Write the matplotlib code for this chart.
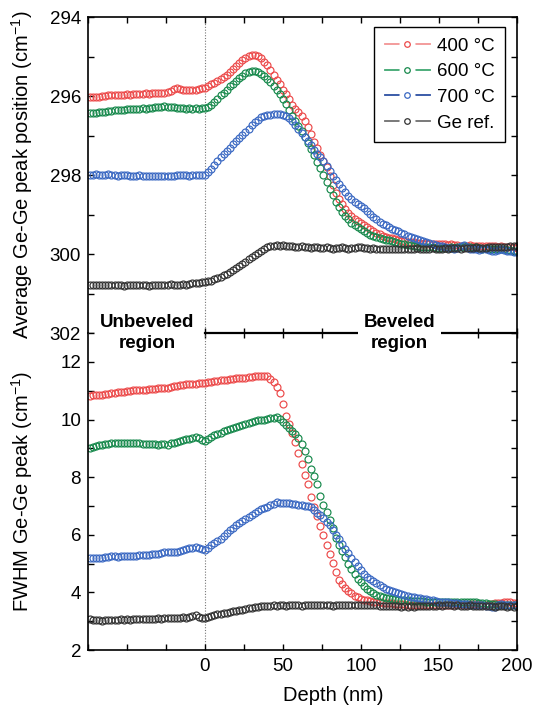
import numpy as np
import matplotlib
matplotlib.use("Agg")
import matplotlib.pyplot as plt
from matplotlib.lines import Line2D
from matplotlib.legend_handler import HandlerTuple
from matplotlib.ticker import MultipleLocator, FuncFormatter

plt.rcParams['font.family'] = ['Liberation Sans', 'DejaVu Sans']
plt.rcParams['mathtext.fontset'] = 'custom'
plt.rcParams['mathtext.rm'] = 'Liberation Sans'
plt.rcParams['mathtext.default'] = 'regular'

# depth grid (nm), one profile point every 2 nm
depth = np.arange(-74, 201, 2)

# average Ge-Ge peak position (cm^-1)
pos_400 = [
    296.03, 296.02, 296.03, 296.01, 296.00, 296.00, 295.98, 295.97, 295.98, 295.97,
    295.96, 295.96, 295.95, 295.96, 295.95, 295.94, 295.95, 295.94, 295.93, 295.94,
    295.93, 295.92, 295.93, 295.92, 295.92, 295.90, 295.86, 295.82, 295.80, 295.82,
    295.84, 295.85, 295.84, 295.83, 295.84, 295.82, 295.80,
    295.78, 295.74, 295.70, 295.66, 295.62, 295.57, 295.51, 295.45, 295.38, 295.31,
    295.24, 295.16, 295.09, 295.03, 294.99, 294.96, 294.96, 294.99, 295.04, 295.12,
    295.22, 295.33, 295.45, 295.58, 295.70, 295.83, 295.95, 296.08, 296.22, 296.33,
    296.41, 296.50, 296.63, 296.78, 296.96, 297.16, 297.32, 297.48, 297.63, 297.80,
    298.02, 298.26, 298.44, 298.60, 298.74, 298.85, 298.95, 299.03, 299.10, 299.15,
    299.20, 299.26, 299.32, 299.37, 299.42, 299.47, 299.50, 299.53, 299.56, 299.58,
    299.60, 299.62, 299.64, 299.66, 299.67, 299.68, 299.69, 299.70, 299.71, 299.72,
    299.73, 299.72, 299.73, 299.74, 299.73, 299.73, 299.74, 299.75, 299.76, 299.75,
    299.77, 299.76, 299.78, 299.79, 299.78, 299.77, 299.78, 299.80, 299.79, 299.78,
    299.79, 299.80, 299.79, 299.80, 299.81, 299.80, 299.82, 299.81, 299.83, 299.82,
    299.84,
]
pos_600 = [
    296.43, 296.42, 296.43, 296.41, 296.40, 296.39, 296.38, 296.37, 296.36, 296.36,
    296.34, 296.35, 296.33, 296.32, 296.33, 296.31, 296.32, 296.30, 296.31, 296.29,
    296.30, 296.28, 296.27, 296.26, 296.25, 296.26, 296.27, 296.28, 296.29, 296.30,
    296.30, 296.31, 296.30, 296.31, 296.30, 296.31, 296.30,
    296.29, 296.26, 296.21, 296.14, 296.06, 295.98, 295.91, 295.83, 295.75, 295.68,
    295.61, 295.54, 295.48, 295.42, 295.38, 295.36, 295.36, 295.39, 295.43, 295.49,
    295.57, 295.65, 295.74, 295.84, 295.95, 296.06, 296.19, 296.34, 296.50, 296.63,
    296.76, 296.88, 297.02, 297.18, 297.34, 297.50, 297.66, 297.82, 297.99, 298.17,
    298.34, 298.51, 298.67, 298.81, 298.93, 299.03, 299.12, 299.20, 299.27, 299.32,
    299.37, 299.42, 299.47, 299.51, 299.54, 299.57, 299.59, 299.61, 299.63, 299.65,
    299.67, 299.69, 299.71, 299.73, 299.74, 299.76, 299.77, 299.79, 299.80, 299.81,
    299.82, 299.83, 299.82, 299.83, 299.84, 299.85, 299.84, 299.85, 299.84, 299.83,
    299.84, 299.83, 299.81, 299.80, 299.82, 299.83, 299.84, 299.83, 299.85, 299.86,
    299.85, 299.86, 299.87, 299.86, 299.87, 299.88, 299.87, 299.89, 299.90, 299.91,
    299.92,
]
pos_700 = [
    297.99, 298.00, 297.98, 297.99, 298.00, 297.99, 297.98, 297.99, 298.00, 298.01,
    298.00, 297.99, 298.00, 298.01, 298.02, 298.01, 298.00, 298.01, 298.02, 298.03,
    298.02, 298.01, 298.02, 298.03, 298.02, 298.01, 298.02, 298.01, 298.00, 298.00,
    297.99, 298.00, 298.01, 298.00, 297.99, 298.00, 298.00,
    297.99, 297.93, 297.83, 297.73, 297.63, 297.54, 297.46, 297.38, 297.30, 297.22,
    297.14, 297.06, 296.98, 296.90, 296.82, 296.74, 296.66, 296.59, 296.53, 296.50,
    296.48, 296.47, 296.45, 296.44, 296.45, 296.47, 296.50, 296.55, 296.62, 296.72,
    296.83, 296.93, 297.03, 297.14, 297.24, 297.35, 297.45, 297.55, 297.65, 297.77,
    297.89, 298.01, 298.12, 298.23, 298.33, 298.43, 298.52, 298.60, 298.67, 298.74,
    298.79, 298.84, 298.91, 298.98, 299.05, 299.12, 299.18, 299.23, 299.27, 299.31,
    299.35, 299.38, 299.42, 299.46, 299.50, 299.53, 299.56, 299.59, 299.62, 299.65,
    299.67, 299.70, 299.72, 299.74, 299.76, 299.78, 299.80, 299.82, 299.84, 299.85,
    299.87, 299.84, 299.80, 299.76, 299.82, 299.86, 299.88, 299.86, 299.90, 299.88,
    299.87, 299.89, 299.91, 299.92, 299.90, 299.88, 299.90, 299.92, 299.93, 299.94,
    299.95,
]
pos_ref = [
    300.78, 300.77, 300.79, 300.78, 300.77, 300.78, 300.79, 300.78, 300.77, 300.78,
    300.79, 300.80, 300.78, 300.77, 300.78, 300.79, 300.78, 300.77, 300.78, 300.80,
    300.79, 300.78, 300.77, 300.78, 300.79, 300.78, 300.76, 300.77, 300.78, 300.77,
    300.76, 300.77, 300.75, 300.73, 300.74, 300.72, 300.71,
    300.70, 300.69, 300.67, 300.64, 300.61, 300.57, 300.53, 300.49, 300.45, 300.41,
    300.36, 300.31, 300.25, 300.19, 300.13, 300.08, 300.02, 299.96, 299.91, 299.87,
    299.83, 299.80, 299.78, 299.77, 299.78, 299.77, 299.79, 299.80, 299.79, 299.81,
    299.82, 299.80, 299.81, 299.83, 299.84, 299.82, 299.83, 299.85, 299.84, 299.83,
    299.85, 299.86, 299.85, 299.84, 299.83, 299.85, 299.86, 299.85, 299.84, 299.82,
    299.83, 299.84, 299.85, 299.86, 299.85, 299.86, 299.87, 299.88, 299.87, 299.86,
    299.87, 299.88, 299.87, 299.86, 299.87, 299.88, 299.87, 299.86, 299.85, 299.87,
    299.88, 299.87, 299.86, 299.85, 299.86, 299.87, 299.86, 299.85, 299.86, 299.85,
    299.84, 299.85, 299.86, 299.85, 299.84, 299.85, 299.84, 299.83, 299.84, 299.85,
    299.84, 299.83, 299.82, 299.83, 299.82, 299.81, 299.82, 299.81, 299.80, 299.79,
    299.80,
]

# FWHM of the Ge-Ge peak (cm^-1)
fwhm_400 = [
    10.83, 10.84, 10.85, 10.86, 10.86, 10.88, 10.90, 10.91, 10.92, 10.94,
    10.95, 10.97, 10.99, 11.00, 11.01, 11.02, 11.03, 11.03, 11.04, 11.05,
    11.06, 11.07, 11.08, 11.09, 11.10, 11.11, 11.13, 11.15, 11.17, 11.19,
    11.20, 11.22, 11.23, 11.24, 11.25, 11.26, 11.27,
    11.28, 11.30, 11.32, 11.34, 11.35, 11.37, 11.38, 11.39, 11.40, 11.41,
    11.43, 11.44, 11.45, 11.46, 11.47, 11.49, 11.50, 11.51, 11.52, 11.52,
    11.50, 11.42, 11.32, 11.14, 10.92, 10.55, 10.12, 9.83, 9.55, 9.22,
    8.83, 8.45, 8.07, 7.75, 7.30, 6.95, 6.65, 6.32, 5.98, 5.66,
    5.34, 5.02, 4.70, 4.44, 4.29, 4.16, 4.05, 3.97, 3.89, 3.83,
    3.78, 3.75, 3.72, 3.69, 3.67, 3.66, 3.65, 3.64, 3.63, 3.63,
    3.62, 3.61, 3.60, 3.60, 3.59, 3.58, 3.58, 3.57, 3.57, 3.58,
    3.56, 3.57, 3.56, 3.57, 3.56, 3.57, 3.56, 3.57, 3.58, 3.57,
    3.58, 3.59, 3.58, 3.59, 3.58, 3.59, 3.60, 3.59, 3.60, 3.58,
    3.57, 3.59, 3.61, 3.62, 3.63, 3.64, 3.66, 3.67, 3.65, 3.64,
    3.63,
]
fwhm_600 = [
    9.03, 9.06, 9.09, 9.11, 9.13, 9.14, 9.16, 9.17, 9.18, 9.19,
    9.19, 9.20, 9.20, 9.19, 9.20, 9.18, 9.17, 9.16, 9.15, 9.14,
    9.15, 9.14, 9.13, 9.15, 9.16, 9.13, 9.17, 9.20, 9.22, 9.25,
    9.28, 9.31, 9.34, 9.36, 9.38, 9.35, 9.30,
    9.27, 9.33, 9.40, 9.46, 9.50, 9.55, 9.60, 9.64, 9.68, 9.72,
    9.75, 9.78, 9.81, 9.84, 9.88, 9.92, 9.95, 9.98, 9.97, 10.00,
    10.03, 10.05, 10.07, 10.10, 10.02, 9.92, 9.80, 9.70, 9.60, 9.50,
    9.35, 9.15, 8.90, 8.62, 8.30, 8.03, 7.75, 7.35, 7.03, 6.78,
    6.50, 6.22, 5.90, 5.65, 5.45, 5.22, 4.98, 4.80, 4.64, 4.48,
    4.35, 4.22, 4.13, 4.05, 3.98, 3.92, 3.88, 3.85, 3.82, 3.80,
    3.78, 3.76, 3.75, 3.74, 3.73, 3.72, 3.71, 3.70, 3.70, 3.69,
    3.69, 3.68, 3.68, 3.67, 3.68, 3.67, 3.68, 3.67, 3.68, 3.67,
    3.68, 3.67, 3.66, 3.67, 3.68, 3.67, 3.66, 3.65, 3.64, 3.63,
    3.62, 3.61, 3.60, 3.59, 3.58, 3.57, 3.56, 3.57, 3.56, 3.55,
    3.56,
]
fwhm_700 = [
    5.20, 5.19, 5.20, 5.19, 5.21, 5.22, 5.24, 5.26, 5.25, 5.24,
    5.25, 5.26, 5.27, 5.26, 5.27, 5.28, 5.29, 5.30, 5.29, 5.31,
    5.32, 5.33, 5.35, 5.38, 5.40, 5.41, 5.40, 5.41, 5.42, 5.44,
    5.47, 5.50, 5.53, 5.55, 5.56, 5.54, 5.50,
    5.48, 5.55, 5.63, 5.70, 5.77, 5.86, 5.96, 6.06, 6.16, 6.25,
    6.34, 6.41, 6.48, 6.55, 6.62, 6.70, 6.76, 6.82, 6.88, 6.93,
    6.97, 7.02, 7.08, 7.13, 7.12, 7.11, 7.10, 7.10, 7.08, 7.06,
    7.05, 7.03, 7.01, 6.99, 6.95, 6.86, 6.76, 6.67, 6.57, 6.45,
    6.33, 6.18, 6.00, 5.85, 5.67, 5.52, 5.37, 5.20, 5.05, 4.91,
    4.78, 4.65, 4.55, 4.46, 4.38, 4.31, 4.25, 4.19, 4.13, 4.09,
    4.05, 4.01, 3.97, 3.93, 3.90, 3.87, 3.85, 3.83, 3.81, 3.80,
    3.78, 3.76, 3.74, 3.72, 3.70, 3.68, 3.67, 3.66, 3.65, 3.64,
    3.63, 3.62, 3.61, 3.60, 3.59, 3.58, 3.58, 3.57, 3.56, 3.55,
    3.54, 3.52, 3.50, 3.49, 3.55, 3.60, 3.58, 3.57, 3.56, 3.57,
    3.56,
]
fwhm_ref = [
    3.06, 3.04, 3.03, 3.04, 3.02, 3.03, 3.04, 3.05, 3.04, 3.05,
    3.06, 3.05, 3.06, 3.05, 3.07, 3.06, 3.07, 3.08, 3.07, 3.08,
    3.09, 3.08, 3.10, 3.09, 3.11, 3.10, 3.11, 3.12, 3.11, 3.12,
    3.13, 3.12, 3.14, 3.18, 3.21, 3.16, 3.12,
    3.10, 3.15, 3.18, 3.22, 3.24, 3.25, 3.27, 3.29, 3.31, 3.34,
    3.36, 3.38, 3.40, 3.43, 3.45, 3.47, 3.49, 3.51, 3.52, 3.54,
    3.52, 3.53, 3.55, 3.54, 3.55, 3.56, 3.54, 3.55, 3.57, 3.56,
    3.55, 3.54, 3.56, 3.57, 3.58, 3.56, 3.55, 3.56, 3.57, 3.56,
    3.55, 3.54, 3.55, 3.56, 3.57, 3.56, 3.55, 3.57, 3.58, 3.57,
    3.56, 3.57, 3.58, 3.57, 3.56, 3.55, 3.54, 3.53, 3.54, 3.53,
    3.52, 3.53, 3.52, 3.51, 3.52, 3.51, 3.52, 3.51, 3.52, 3.53,
    3.52, 3.53, 3.54, 3.53, 3.54, 3.55, 3.54, 3.55, 3.56, 3.55,
    3.54, 3.55, 3.54, 3.53, 3.54, 3.55, 3.54, 3.53, 3.54, 3.53,
    3.52, 3.53, 3.52, 3.51, 3.52, 3.53, 3.52, 3.51, 3.52, 3.51,
    3.52,
]

labels = ['400 °C', '600 °C', '700 °C', 'Ge ref.']
marker_colors = ['#ec4a4a', '#17894c', '#3a68c2', '#333333']
legend_line_colors = ['#f29494', '#3fa771', '#2c4fa3', '#6e6e6e']

fig = plt.figure(figsize=(5.35, 7.06), dpi=100)
ax1 = fig.add_axes([0.1645, 0.5281, 0.8013, 0.4474])
ax2 = fig.add_axes([0.1645, 0.0793, 0.8013, 0.4488], sharex=ax1)

mk = dict(ls='none', marker='o', ms=5.0, mfc='none', mew=0.85)
for ys, c in zip([pos_400, pos_600, pos_700, pos_ref], marker_colors):
    ax1.plot(depth, ys, mec=c, **mk)
for ys, c in zip([fwhm_400, fwhm_600, fwhm_700, fwhm_ref], marker_colors):
    ax2.plot(depth, ys, mec=c, **mk)

for ax in (ax1, ax2):
    ax.axvline(0, color='#777777', ls=(0, (1, 1.5)), lw=0.8, zorder=1)
    for s in ax.spines.values():
        s.set_linewidth(1.2)
    ax.tick_params(which='both', direction='in', length=4.5, width=1.0,
                   labelsize=13.5, pad=5)

ax1.set_xlim(-75, 200)
ax1.set_ylim(302, 294)
ax1.yaxis.set_major_locator(MultipleLocator(2))
ax1.yaxis.set_minor_locator(MultipleLocator(1))
ax1.xaxis.set_major_locator(MultipleLocator(25))
ax1.tick_params(axis='x', which='both', top=True, bottom=False, labelbottom=False)
ax1.tick_params(axis='y', which='both', left=True, right=True)
ax1.spines['bottom'].set_visible(False)
ax1.set_ylabel('Average Ge-Ge peak position (cm$^{-1}$)', fontsize=14.5)
ax1.yaxis.set_label_coords(-0.124, 0.5)

ax2.set_ylim(2, 13)
ax2.yaxis.set_major_locator(MultipleLocator(2))
ax2.yaxis.set_minor_locator(MultipleLocator(1))
ax2.xaxis.set_major_locator(MultipleLocator(25))
ax2.xaxis.set_major_formatter(FuncFormatter(
    lambda v, p: f'{v:.0f}' if v >= 0 and v % 50 == 0 else ''))
ax2.tick_params(axis='x', which='both', top=False, bottom=True, pad=6)
ax2.tick_params(axis='y', which='both', left=True, right=True)
ax2.spines['top'].set_bounds(0, 200)
ax2.spines['top'].set_linewidth(1.6)
ax2.set_ylabel('FWHM Ge-Ge peak (cm$^{-1}$)', fontsize=14.5)
ax2.yaxis.set_label_coords(-0.124, 0.5)
ax2.set_xlabel('Depth (nm)', fontsize=14.5)
ax2.xaxis.set_label_coords(0.571, -0.115)

# ticks on the separator between the two regions
sep = ax2.secondary_xaxis('top')
sep.set_xticks(np.arange(0, 201, 25))
sep.tick_params(direction='inout', length=7, width=1.0, labeltop=False)
sep.spines['top'].set_visible(False)

ax2.text(-37, 13, 'Unbeveled\nregion', ha='center', va='center',
         fontsize=13.5, fontweight='bold', linespacing=1.3, zorder=5)
ax2.text(125, 13, 'Beveled\nregion', ha='center', va='center',
         fontsize=13.5, fontweight='bold', linespacing=1.3, zorder=5,
         bbox=dict(facecolor='white', edgecolor='none', pad=4))

# legend entries: line, white gap, small open circle
handles = []
for mc, lc in zip(marker_colors, legend_line_colors):
    line = Line2D([], [], color=lc, lw=1.3)
    blank = Line2D([], [], ls='none', marker='o', ms=10.5, mfc='white', mec='white')
    dot = Line2D([], [], ls='none', marker='o', ms=4, mfc='white', mec=mc, mew=0.9)
    handles.append((line, blank, dot))
leg = ax1.legend(handles, labels, handler_map={tuple: HandlerTuple(ndivide=1)},
                 loc='upper right', bbox_to_anchor=(0.973, 0.968), borderaxespad=0,
                 fontsize=13.5, frameon=True, fancybox=False, framealpha=1,
                 edgecolor='black', handlelength=2.4, handletextpad=0.4,
                 labelspacing=0.45, borderpad=0.55)
leg.get_frame().set_linewidth(1.0)

fig.savefig('out.png', dpi=100)
